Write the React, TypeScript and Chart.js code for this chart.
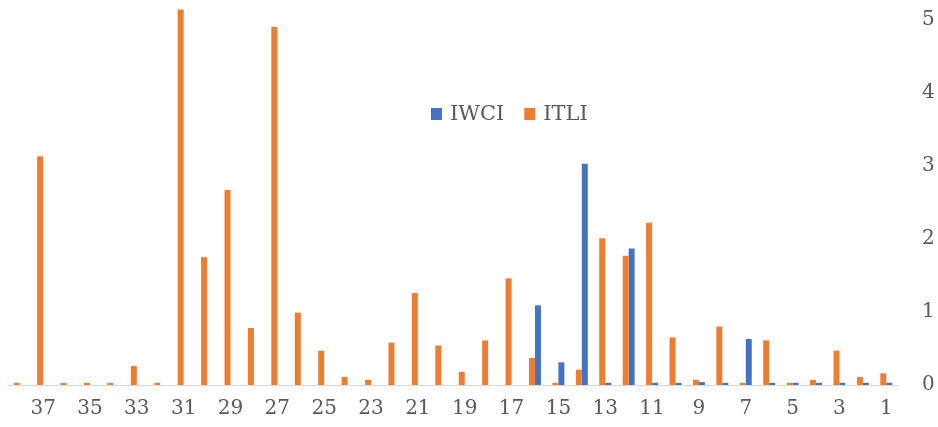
import { useEffect, useRef } from "react";
import { Chart, registerables } from "chart.js";

Chart.register(...registerables);

const categories = [
  "38", "37", "36", "35", "34", "33", "32", "31", "30", "29",
  "28", "27", "26", "25", "24", "23", "22", "21", "20", "19",
  "18", "17", "16", "15", "14", "13", "12", "11", "10", "9",
  "8", "7", "6", "5", "4", "3", "2", "1",
];

const itli = [
  0.03, 3.13, 0.03, 0.03, 0.03, 0.26, 0.03, 5.14, 1.75, 2.67,
  0.78, 4.9, 0.99, 0.47, 0.11, 0.07, 0.58, 1.26, 0.54, 0.18,
  0.61, 1.46, 0.37, 0.03, 0.21, 2.01, 1.77, 2.22, 0.65, 0.07,
  0.8, 0.03, 0.61, 0.03, 0.07, 0.47, 0.11, 0.16,
];

const iwci = [
  0, 0, 0, 0, 0, 0, 0, 0, 0, 0,
  0, 0, 0, 0, 0, 0, 0, 0, 0, 0,
  0, 0, 1.09, 0.31, 3.03, 0.03, 1.87, 0.03, 0.03, 0.04,
  0.03, 0.63, 0.03, 0.03, 0.03, 0.03, 0.03, 0.03,
];

const yTicks = [0, 1, 2, 3, 4, 5];

const BLUE = "#4472C4";
const ORANGE = "#ED7D31";
const TEXT = "#595959";
const FONT_FAMILY = '"DejaVu Serif", "Liberation Serif", serif';

const midLegend = {
  id: "midLegend",
  afterDraw(chart: any) {
    const ctx = chart.ctx as CanvasRenderingContext2D;
    const order = [1, 0];
    ctx.save();
    ctx.font = `21px ${FONT_FAMILY}`;
    ctx.textBaseline = "middle";
    ctx.textAlign = "left";
    let x = 431;
    const y = 114;
    order.forEach((i) => {
      const ds = chart.data.datasets[i];
      ctx.fillStyle = ds.backgroundColor;
      ctx.fillRect(x, y - 6, 11, 12);
      x += 19;
      ctx.fillStyle = TEXT;
      ctx.fillText(ds.label, x, y + 1);
      x += ctx.measureText(ds.label).width + 20;
    });
    ctx.restore();
  },
};

export default function App() {
  const canvasRef = useRef<HTMLCanvasElement | null>(null);

  useEffect(() => {
    document.body.style.margin = "0";
    const canvas = canvasRef.current;
    if (!canvas) return;
    const chart = new Chart(canvas, {
      type: "bar",
      data: {
        labels: categories,
        datasets: [
          {
            label: "ITLI",
            data: itli,
            backgroundColor: ORANGE,
            borderWidth: 0,
            clip: false as any,
          },
          {
            label: "IWCI",
            data: iwci,
            backgroundColor: BLUE,
            borderWidth: 0,
            clip: false as any,
          },
        ],
      },
      options: {
        animation: false,
        responsive: true,
        maintainAspectRatio: false,
        datasets: {
          bar: {
            barPercentage: 1,
            categoryPercentage: 0.51,
          },
        },
        layout: {
          padding: { left: 8, right: 0, top: 0, bottom: 0 },
        },
        plugins: {
          legend: { display: false },
          tooltip: { enabled: false },
        },
        scales: {
          x: {
            grid: { display: false, drawTicks: false },
            border: { display: true, color: "#D9D9D9", width: 1 },
            afterFit: (scale: any) => {
              scale.height = 42;
              scale.paddingLeft = 0;
              scale.paddingRight = 0;
              scale.paddingTop = 0;
              scale.paddingBottom = 0;
            },
            ticks: {
              autoSkip: false,
              maxRotation: 0,
              minRotation: 0,
              padding: 12,
              color: TEXT,
              font: { family: FONT_FAMILY, size: 20 },
              callback: (_v: any, index: number) =>
                Number(categories[index]) % 2 === 1 ? categories[index] : "",
            },
          },
          y: {
            position: "right",
            min: 0,
            max: 5.27,
            grid: { display: false, drawTicks: false },
            border: { display: false },
            afterBuildTicks: (scale: any) => {
              scale.ticks = yTicks.map((v) => ({ value: v }));
            },
            afterFit: (scale: any) => {
              scale.width = 40;
              scale.paddingTop = 0;
              scale.paddingBottom = 0;
              scale.paddingLeft = 0;
              scale.paddingRight = 0;
            },
            ticks: {
              padding: 24,
              color: TEXT,
              font: { family: FONT_FAMILY, size: 20 },
              callback: (v: any) => String(v),
            },
          },
        },
      },
      plugins: [midLegend],
    });
    return () => chart.destroy();
  }, []);

  return (
    <div style={{ width: 938, height: 427, position: "relative", background: "#fff" }}>
      <canvas ref={canvasRef} />
    </div>
  );
}
